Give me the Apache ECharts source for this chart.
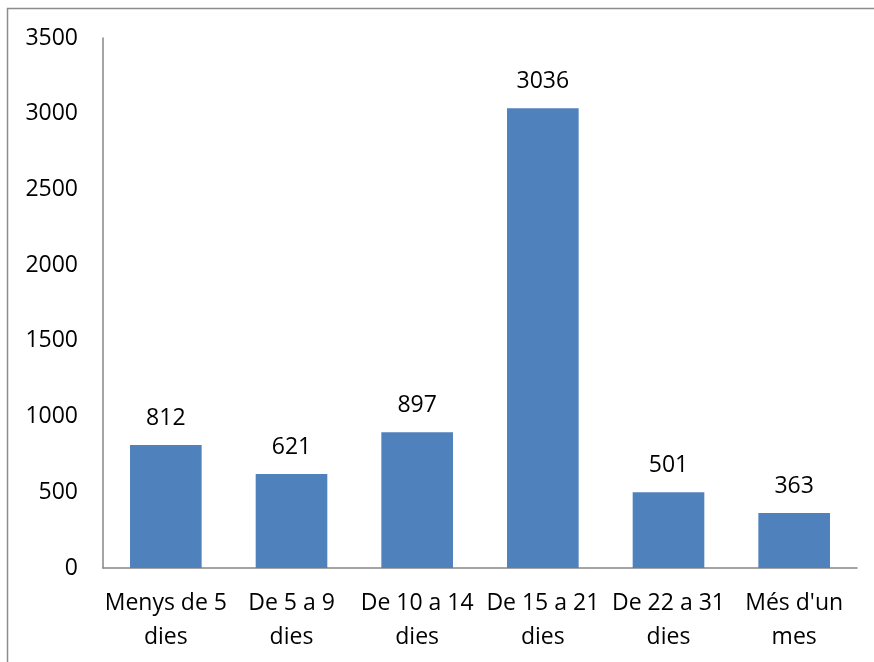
<!DOCTYPE html>
<html>
<head>
<meta charset="utf-8">
<script src="https://cdn.jsdelivr.net/npm/echarts@6/dist/echarts.min.js"></script>
<style>
  html, body { margin: 0; padding: 0; background: #fff; }
  #chart { width: 874px; height: 662px; }
</style>
</head>
<body>
<div id="chart"></div>
<script>
// categories (line breaks as in the picture)
var categories = ['Menys de 5\ndies', 'De 5 a 9\ndies', 'De 10 a 14\ndies', 'De 15 a 21\ndies', 'De 22 a 31\ndies', "Més d'un\nmes"];
var values = [812, 621, 897, 3036, 501, 363];
var yTicks = [0, 500, 1000, 1500, 2000, 2500, 3000, 3500];

var font = '"Open Sans", "Liberation Sans", Arial, sans-serif';
var chart = echarts.init(document.getElementById('chart'));
chart.setOption({
  animation: false,
  backgroundColor: '#fff',
  // outer frame of the chart (only top and left edges are inside the picture)
  graphic: [{
    type: 'rect',
    shape: { x: 7.5, y: 8.5, width: 900, height: 700 },
    style: { fill: 'none', stroke: '#8c8c8c', lineWidth: 1.5 },
    silent: true
  }],
  grid: { left: 103, right: 17, top: 38, bottom: 94 },
  xAxis: {
    type: 'category',
    data: categories,
    axisLine: { lineStyle: { color: '#868686', width: 1.5 } },
    axisTick: { show: false },
    axisLabel: {
      color: '#000', fontFamily: font, fontSize: 23, lineHeight: 34,
      margin: 18, interval: 0
    }
  },
  yAxis: {
    type: 'value',
    min: yTicks[0],
    max: yTicks[yTicks.length - 1],
    interval: 500,
    axisLine: { show: true, lineStyle: { color: '#868686', width: 1.5 } },
    axisTick: { show: false },
    splitLine: { show: false },
    axisLabel: {
      color: '#000', fontFamily: font, fontSize: 23, margin: 25,
      formatter: function (v) { return String(v); }
    }
  },
  series: [{
    type: 'bar',
    data: values,
    barWidth: '57%',
    itemStyle: { color: '#4f81bd' },
    label: {
      show: true, position: 'top', distance: 15,
      color: '#000', fontFamily: font, fontSize: 23
    }
  }]
});
</script>
</body>
</html>
